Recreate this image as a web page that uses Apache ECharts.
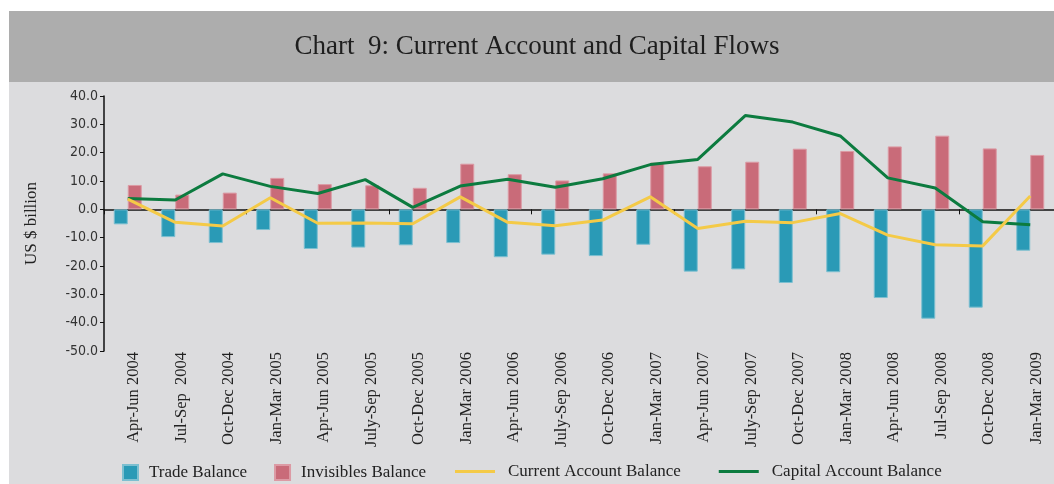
<!DOCTYPE html>
<html><head><meta charset="utf-8">
<script src="https://cdn.jsdelivr.net/npm/echarts@6/dist/echarts.min.js"></script>
<style>html,body{margin:0;padding:0;background:#fff}#c{width:1054px;height:484px}</style>
</head><body><div id="c"></div>
<script>
const categories = ['Apr-Jun 2004','Jul-Sep  2004','Oct-Dec 2004','Jan-Mar 2005','Apr-Jun 2005','July-Sep 2005','Oct-Dec 2005','Jan-Mar 2006','Apr-Jun 2006','July-Sep 2006','Oct-Dec 2006','Jan-Mar 2007','Apr-Jun 2007','July-Sep 2007','Oct-Dec 2007','Jan-Mar 2008','Apr-Jun 2008','Jul-Sep 2008','Oct-Dec 2008','Jan-Mar 2009'];
const tradeBalance = [-5.3,-9.8,-11.9,-7.3,-14.0,-13.5,-12.7,-11.9,-16.9,-16.0,-16.5,-12.5,-22.0,-21.2,-26.0,-22.2,-31.3,-38.6,-34.7,-14.6];
const invisiblesBalance = [8.6,5.2,5.9,11.1,8.9,8.5,7.6,16.1,12.4,10.2,12.7,16.5,15.2,16.8,21.4,20.6,22.2,26.0,21.5,19.2];
const currentAccountBalance = [3.6,-4.6,-5.9,4.1,-4.9,-4.8,-5.1,4.4,-4.6,-5.8,-3.8,4.4,-6.8,-4.2,-4.7,-1.5,-9.1,-12.5,-12.9,4.7];
const capitalAccountBalance = [3.8,3.3,12.5,8.1,5.6,10.5,0.7,8.2,10.6,7.8,10.8,15.8,17.6,33.1,30.8,25.9,11.1,7.5,-4.4,-5.4];
const titleText = 'Chart  9: Current Account and Capital Flows';
const yAxisName = 'US $ billion';

const serif = '"Liberation Serif", "DejaVu Serif", serif';
const chart = echarts.init(document.getElementById('c'), null, {renderer: 'canvas'});
chart.setOption({
  animation: false,
  backgroundColor: '#ffffff',
  graphic: [
    {type: 'rect', z: -10, shape: {x: 9, y: 11, width: 1045, height: 71}, style: {fill: '#adadad'}},
    {type: 'rect', z: -10, shape: {x: 9, y: 82, width: 1045, height: 402}, style: {fill: '#dcdcde'}},
    {type: 'text', x: 537, y: 47, style: {text: titleText, font: '27px ' + serif, fill: '#1e1e1e', textAlign: 'center', textVerticalAlign: 'middle'}}
  ],
  grid: {left: 104, right: 0, top: 96, bottom: 133, containLabel: false},
  legend: [
    {data: ['Trade Balance', 'Invisibles Balance'], left: 122, top: 464, padding: 0, icon: 'rect', itemWidth: 15, itemHeight: 15, itemGap: 27,
     textStyle: {fontFamily: serif, fontSize: 17, color: '#222', padding: [0, 0, 0, 6]}},
    {data: ['Current Account Balance', 'Capital Account Balance'], left: 455, top: 463, padding: 0, icon: 'rect', itemWidth: 40, itemHeight: 3, itemGap: 38,
     textStyle: {fontFamily: serif, fontSize: 17, color: '#222', padding: [0, 0, 0, 8]}}
  ],
  xAxis: [
    {type: 'category', data: categories, position: 'bottom', axisLine: {show: false, onZero: false}, axisTick: {show: false},
     axisLabel: {rotate: 90, interval: 0, margin: 1, fontFamily: serif, fontSize: 16.5, color: '#222', verticalAlign: 'top', lineHeight: 12}},
    {type: 'category', data: categories, position: 'top', axisLine: {show: true, onZero: true, lineStyle: {color: '#111', width: 1.5}},
     axisTick: {show: true, inside: true, length: 5, lineStyle: {color: '#111'}}, axisLabel: {show: false}}
  ],
  yAxis: {
    type: 'value', min: -50, max: 40, interval: 10,
    name: yAxisName, nameLocation: 'middle', nameRotate: 90, nameGap: 64,
    nameTextStyle: {fontFamily: serif, fontSize: 17, color: '#222'},
    axisLine: {show: true, lineStyle: {color: '#111', width: 1.5}},
    axisTick: {show: true, length: 4, lineStyle: {color: '#111'}},
    splitLine: {show: false},
    axisLabel: {margin: 6, fontFamily: '"DejaVu Sans Condensed", "DejaVu Sans", sans-serif', fontSize: 14, color: '#333', formatter: v => v.toFixed(1)}
  },
  series: [
    {name: 'Trade Balance', type: 'bar', data: tradeBalance, barWidth: 14, barGap: '0%',
     itemStyle: {color: '#2a9ab6', borderColor: '#7cbfd0', borderWidth: 1}},
    {name: 'Invisibles Balance', type: 'bar', data: invisiblesBalance, barWidth: 14, barGap: '0%',
     itemStyle: {color: '#c96b79', borderColor: '#dc9aa4', borderWidth: 1}},
    {name: 'Current Account Balance', type: 'line', data: currentAccountBalance, symbol: 'none', z: 4,
     itemStyle: {color: '#f4ca47'}, lineStyle: {color: '#f4ca47', width: 3}},
    {name: 'Capital Account Balance', type: 'line', data: capitalAccountBalance, symbol: 'none', z: 3,
     itemStyle: {color: '#0c7b3f'}, lineStyle: {color: '#0c7b3f', width: 3}}
  ]
});
</script></body></html>
